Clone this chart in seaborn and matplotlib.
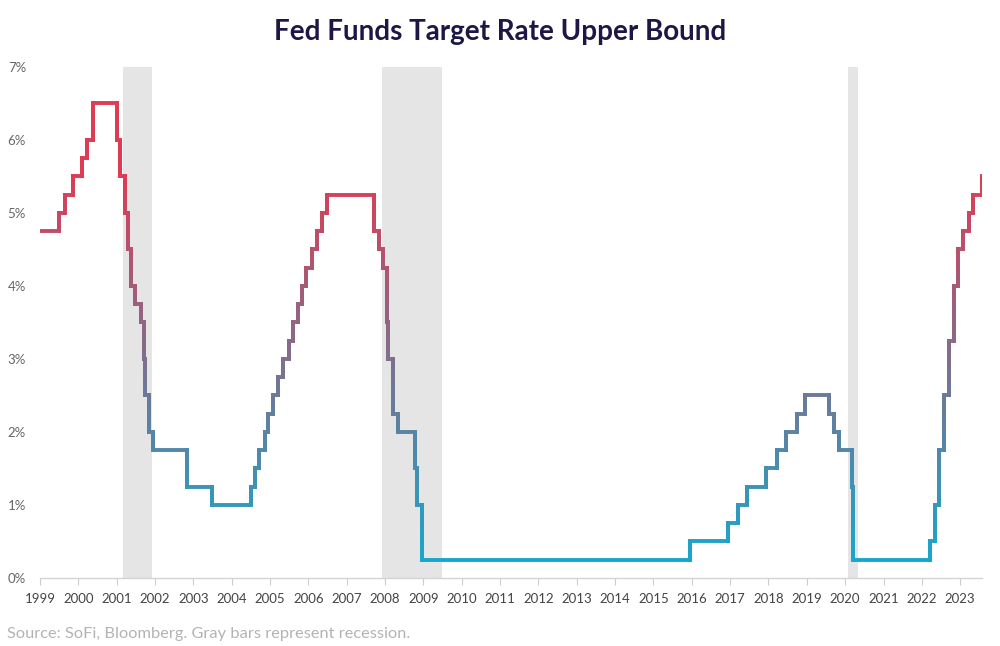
"""Fed Funds target rate upper bound, step line with value gradient."""

import matplotlib
matplotlib.use("Agg")

import matplotlib.dates as mdates
import matplotlib.pyplot as plt
import numpy as np
import pandas as pd
import seaborn as sns
from matplotlib.collections import LineCollection
from matplotlib.colors import LinearSegmentedColormap, Normalize
from matplotlib.ticker import FuncFormatter

# ---------------------------------------------------------------------------
# Data
# ---------------------------------------------------------------------------

start_date = "1999-01-01"
start_rate = 4.75
end_date = "2023-07-28"

change_dates = [
    "1999-06-30", "1999-08-24", "1999-11-16", "2000-02-02", "2000-03-21",
    "2000-05-16", "2001-01-03", "2001-01-31", "2001-03-20", "2001-04-18",
    "2001-05-15", "2001-06-27", "2001-08-21", "2001-09-17", "2001-10-02",
    "2001-11-06", "2001-12-11", "2002-11-06", "2003-06-25", "2004-06-30",
    "2004-08-10", "2004-09-21", "2004-11-10", "2004-12-14", "2005-02-02",
    "2005-03-22", "2005-05-03", "2005-06-30", "2005-08-09", "2005-09-20",
    "2005-11-01", "2005-12-13", "2006-01-31", "2006-03-28", "2006-05-10",
    "2006-06-29", "2007-09-18", "2007-10-31", "2007-12-11", "2008-01-22",
    "2008-01-30", "2008-03-18", "2008-04-30", "2008-10-08", "2008-10-29",
    "2008-12-16", "2015-12-16", "2016-12-14", "2017-03-15", "2017-06-14",
    "2017-12-13", "2018-03-21", "2018-06-13", "2018-09-26", "2018-12-19",
    "2019-07-31", "2019-09-18", "2019-10-30", "2020-03-03", "2020-03-15",
    "2022-03-16", "2022-05-04", "2022-06-15", "2022-07-27", "2022-09-21",
    "2022-11-02", "2022-12-14", "2023-02-01", "2023-03-22", "2023-05-03",
    "2023-07-26",
]
upper_bound = [
    5.00, 5.25, 5.50, 5.75, 6.00,
    6.50, 6.00, 5.50, 5.00, 4.50,
    4.00, 3.75, 3.50, 3.00, 2.50,
    2.00, 1.75, 1.25, 1.00, 1.25,
    1.50, 1.75, 2.00, 2.25, 2.50,
    2.75, 3.00, 3.25, 3.50, 3.75,
    4.00, 4.25, 4.50, 4.75, 5.00,
    5.25, 4.75, 4.50, 4.25, 3.50,
    3.00, 2.25, 2.00, 1.50, 1.00,
    0.25, 0.50, 0.75, 1.00, 1.25,
    1.50, 1.75, 2.00, 2.25, 2.50,
    2.25, 2.00, 1.75, 1.25, 0.25,
    0.50, 1.00, 1.75, 2.50, 3.25,
    4.00, 4.50, 4.75, 5.00, 5.25,
    5.50,
]

recession_starts = ["2001-03-01", "2007-12-01", "2020-02-01"]
recession_ends = ["2001-11-30", "2009-06-30", "2020-04-30"]

years = list(range(1999, 2024))

RED = "#de3c55"
BLUE = "#17a7cc"
GRAY_BAR = "#e5e5e5"
TITLE_COLOR = "#1c1745"

# ---------------------------------------------------------------------------
# Build the step path, with risers split so the colour can change along them
# ---------------------------------------------------------------------------

xs = [mdates.date2num(pd.Timestamp(start_date))]
ys = [start_rate]
prev = start_rate
for d, v in zip(change_dates, upper_bound):
    x = mdates.date2num(pd.Timestamp(d))
    xs.append(x)
    ys.append(prev)
    xs.append(x)
    ys.append(v)
    prev = v

segments = []
seg_vals = []
for i in range(len(xs) - 1):
    x0, y0, x1, y1 = xs[i], ys[i], xs[i + 1], ys[i + 1]
    if y0 == y1:
        segments.append([(x0, y0), (x1, y1)])
        seg_vals.append(y0)
    else:
        n = max(2, int(abs(y1 - y0) * 40))
        yy = np.linspace(y0, y1, n + 1)
        for a, b in zip(yy[:-1], yy[1:]):
            segments.append([(x0, a), (x1, b)])
            seg_vals.append((a + b) / 2)

cmap = LinearSegmentedColormap.from_list("fed", [BLUE, RED])
norm = Normalize(vmin=0.25, vmax=5.5, clip=True)

# ---------------------------------------------------------------------------
# Plot
# ---------------------------------------------------------------------------

sns.set_theme(style="white")
plt.rcParams["font.family"] = ["Lato", "DejaVu Sans"]

fig = plt.figure(figsize=(10, 6.46), dpi=100)
ax = fig.add_axes([0.04, 0.1053, 0.942, 0.791])

for s, e in zip(recession_starts, recession_ends):
    ax.axvspan(pd.Timestamp(s), pd.Timestamp(e), color=GRAY_BAR, lw=0, zorder=0)

lc = LineCollection(
    segments, colors=cmap(norm(np.array(seg_vals))),
    linewidths=2.8, capstyle="projecting", zorder=3,
)
ax.add_collection(lc)

ax.set_xlim(pd.Timestamp(start_date), pd.Timestamp(end_date))
ax.set_ylim(0, 7)

ax.set_xticks([pd.Timestamp(f"{y}-01-01") for y in years])
ax.xaxis.set_major_formatter(mdates.DateFormatter("%Y"))
ax.set_yticks(range(0, 8))
ax.yaxis.set_major_formatter(FuncFormatter(lambda v, _: f"{int(v)}%"))

ax.tick_params(axis="x", which="major", bottom=True, length=5, width=0.8,
               color="#cccccc", labelsize=9.5, labelcolor="#444444", pad=6)
ax.tick_params(axis="y", left=False, labelsize=9.5, labelcolor="#666666", pad=4)

sns.despine(ax=ax, left=True, top=True, right=True)
ax.spines["bottom"].set_color("#d4d4d4")
ax.spines["bottom"].set_linewidth(1.0)
ax.grid(False)

fig.text(0.5, 0.951, "Fed Funds Target Rate Upper Bound", ha="center",
         va="center", fontsize=20, fontweight="bold", color=TITLE_COLOR)
fig.text(0.007, 0.0186, "Source: SoFi, Bloomberg. Gray bars represent recession.",
         ha="left", va="center", fontsize=11.8, color="#b3b3b3")

fig.savefig("out.png", dpi=100)
